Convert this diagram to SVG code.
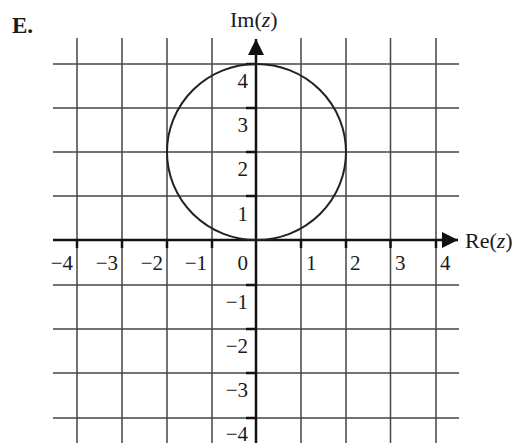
<svg xmlns="http://www.w3.org/2000/svg" width="520" height="443" viewBox="0 0 520 443">
<style>
.grid{stroke:#444;stroke-width:1.5;fill:none}
.axis{stroke:#111;stroke-width:2.5;fill:none}
.tick{stroke:#111;stroke-width:2.5}
.curve{stroke:#222;stroke-width:2;fill:none}
text{font-family:"Liberation Serif","Times New Roman",serif;fill:#1a1a1a}
.num{font-size:21px}
.xn{text-anchor:end}
.xp{text-anchor:start}
.yn{text-anchor:end}
.lab{font-size:22px}
</style>
<defs>
<marker id="arr" viewBox="0 0 10 10" refX="10" refY="5" markerWidth="16" markerHeight="16" markerUnits="userSpaceOnUse" orient="auto">
<path d="M0,0 L10,5 L0,10 Z" fill="#111"/>
</marker>
</defs>
<text x="12" y="33" font-size="23" font-weight="bold">E.</text>
<g id="grid">
<line class="grid" x1="77" y1="38" x2="77" y2="443"/>
<line class="grid" x1="122" y1="38" x2="122" y2="443"/>
<line class="grid" x1="167" y1="38" x2="167" y2="443"/>
<line class="grid" x1="212" y1="38" x2="212" y2="443"/>
<line class="grid" x1="301" y1="38" x2="301" y2="443"/>
<line class="grid" x1="346" y1="38" x2="346" y2="443"/>
<line class="grid" x1="390.5" y1="38" x2="390.5" y2="443"/>
<line class="grid" x1="436" y1="38" x2="436" y2="443"/>
<line class="grid" x1="53" y1="64" x2="459" y2="64"/>
<line class="grid" x1="53" y1="108" x2="459" y2="108"/>
<line class="grid" x1="53" y1="152" x2="459" y2="152"/>
<line class="grid" x1="53" y1="196" x2="459" y2="196"/>
<line class="grid" x1="53" y1="285" x2="459" y2="285"/>
<line class="grid" x1="53" y1="329" x2="459" y2="329"/>
<line class="grid" x1="53" y1="373" x2="459" y2="373"/>
<line class="grid" x1="53" y1="418" x2="459" y2="418"/>
</g>
<g id="axes">
<line class="axis" x1="53" y1="240" x2="458" y2="240" marker-end="url(#arr)"/>
<line class="axis" x1="256" y1="443" x2="256" y2="39" marker-end="url(#arr)"/>
<line class="tick" x1="77" y1="240" x2="77" y2="248"/>
<line class="tick" x1="122" y1="240" x2="122" y2="248"/>
<line class="tick" x1="167" y1="240" x2="167" y2="248"/>
<line class="tick" x1="212" y1="240" x2="212" y2="248"/>
<line class="tick" x1="301" y1="240" x2="301" y2="248"/>
<line class="tick" x1="346" y1="240" x2="346" y2="248"/>
<line class="tick" x1="390.5" y1="240" x2="390.5" y2="248"/>
<line class="tick" x1="436" y1="240" x2="436" y2="248"/>
<line class="tick" x1="246" y1="64" x2="256" y2="64"/>
<line class="tick" x1="246" y1="108" x2="256" y2="108"/>
<line class="tick" x1="246" y1="152" x2="256" y2="152"/>
<line class="tick" x1="246" y1="196" x2="256" y2="196"/>
<line class="tick" x1="246" y1="285" x2="256" y2="285"/>
<line class="tick" x1="246" y1="329" x2="256" y2="329"/>
<line class="tick" x1="246" y1="373" x2="256" y2="373"/>
<line class="tick" x1="246" y1="418" x2="256" y2="418"/>
</g>
<g id="circle">
<ellipse class="curve" cx="256.5" cy="152" rx="89.5" ry="88"/>
</g>
<g id="xlabels">
<text class="num xn" x="73" y="270">−4</text>
<text class="num xn" x="118" y="270">−3</text>
<text class="num xn" x="163" y="270">−2</text>
<text class="num xn" x="207" y="270">−1</text>
<text class="num xn" x="248" y="270">0</text>
<text class="num xp" x="306" y="270">1</text>
<text class="num xp" x="350" y="270">2</text>
<text class="num xp" x="395" y="270">3</text>
<text class="num xp" x="440" y="270">4</text>
</g>
<g id="ylabels">
<text class="num yn" x="248" y="88">4</text>
<text class="num yn" x="248" y="132">3</text>
<text class="num yn" x="248" y="176">2</text>
<text class="num yn" x="248" y="221">1</text>
<text class="num yn" x="248" y="309">−1</text>
<text class="num yn" x="248" y="353">−2</text>
<text class="num yn" x="248" y="397">−3</text>
<text class="num yn" x="248" y="441">−4</text>
</g>
<text class="lab" x="230" y="27">Im(<tspan font-style="italic">z</tspan>)</text>
<text class="lab" x="465" y="248">Re(<tspan font-style="italic">z</tspan>)</text>
</svg>
